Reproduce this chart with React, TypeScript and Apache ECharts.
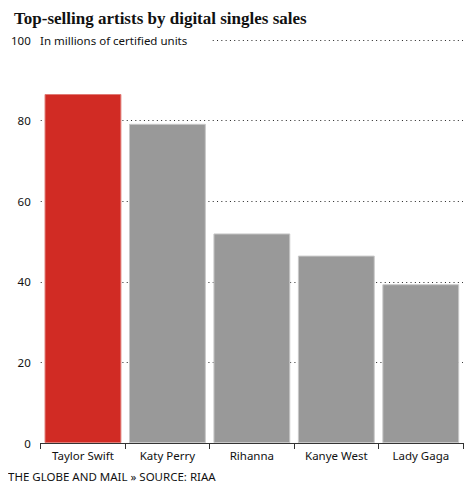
import React, { useEffect, useRef } from "react";
import * as echarts from "echarts";

const categories = ["Taylor Swift", "Katy Perry", "Rihanna", "Kanye West", "Lady Gaga"];
const sales = [86.6, 79.2, 52.0, 46.5, 39.4];
const barColors = ["#d12b24", "#999999", "#999999", "#999999", "#999999"];
const borderColors = ["#e07a75", "#c8c8c8", "#c8c8c8", "#c8c8c8", "#c8c8c8"];

const FONT = "'Noto Sans', 'DejaVu Sans', sans-serif";
const FS = 11.5;

export default function App() {
  const ref = useRef<HTMLDivElement>(null);
  useEffect(() => {
    if (!ref.current) return;
    const chart = echarts.init(ref.current, undefined, { renderer: "svg" });
    chart.setOption({
      animation: false,
      backgroundColor: "#ffffff",
      title: {
        text: "Top-selling artists by digital singles sales",
        left: 1,
        top: -3,
        textStyle: {
          fontFamily: "'Liberation Serif', 'DejaVu Serif', serif",
          fontWeight: "bold",
          fontSize: 17,
          color: "#111111",
        },
      },
      grid: { left: 32, right: 10, top: 32, bottom: 49, containLabel: false },
      xAxis: {
        type: "category",
        data: categories,
        axisLine: { lineStyle: { color: "#333333", width: 1 } },
        axisTick: { show: true, length: 6, lineStyle: { color: "#333333" } },
        axisLabel: { fontFamily: FONT, fontSize: FS, color: "#111111", margin: 6 },
      },
      yAxis: {
        type: "value",
        min: 0,
        max: 100,
        interval: 20,
        axisLine: { show: false },
        axisTick: { show: false },
        axisLabel: { fontFamily: FONT, fontSize: FS, color: "#111111", margin: 10 },
        splitLine: { lineStyle: { color: "#222222", type: [1, 3.3], width: 1 } },
      },
      series: [
        {
          type: "bar",
          data: sales.map((v, i) => ({
            value: v,
            itemStyle: { color: barColors[i], borderColor: borderColors[i], borderWidth: 1 },
          })),
          barCategoryGap: "9%",
        },
      ],
      graphic: [
        {
          type: "rect",
          shape: { x: 28, y: 24, width: 175, height: 16 },
          style: { fill: "#ffffff" },
          z: 100,
        },
        {
          type: "text",
          x: 32,
          y: 32,
          style: {
            text: "In millions of certified units",
            fontFamily: FONT,
            fontSize: FS,
            fill: "#111111",
            textVerticalAlign: "middle",
          },
          z: 101,
        },
        {
          type: "text",
          x: 0,
          y: 468,
          style: {
            text: "THE GLOBE AND MAIL » SOURCE: RIAA",
            fontFamily: FONT,
            fontSize: FS,
            fill: "#111111",
            textVerticalAlign: "middle",
          },
        },
      ],
    });
    return () => chart.dispose();
  }, []);
  return <div ref={ref} style={{ width: 465, height: 484 }} />;
}
